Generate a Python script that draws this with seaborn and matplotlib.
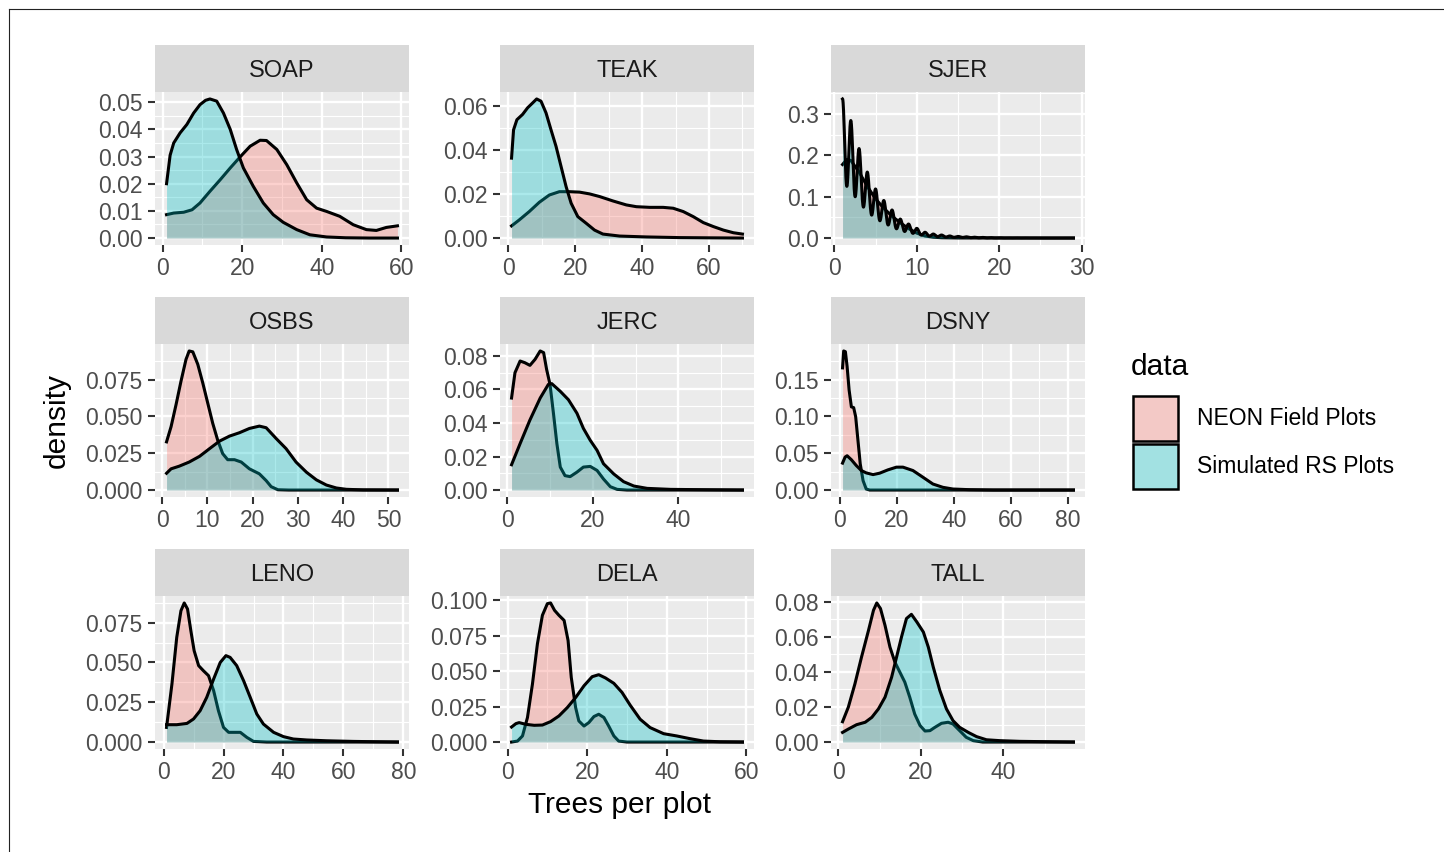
import numpy as np
import matplotlib
matplotlib.use("Agg")
import matplotlib.pyplot as plt
from matplotlib.patches import Rectangle
from matplotlib.lines import Line2D
import seaborn as sns

plt.rcParams['font.family'] = ['Liberation Sans', 'DejaVu Sans']

# ---------------- data ----------------
sites = ["SOAP", "TEAK", "SJER", "OSBS", "JERC", "DSNY", "LENO", "DELA", "TALL"]
series_names = ["NEON Field Plots", "Simulated RS Plots"]
series_colors = ["#F8766D", "#00BFC4"]

soap_neon_x = [1, 2.8, 5.3, 7.4, 9.4, 11.9, 14.5, 17, 19.5, 22, 24.5, 26.1, 28.7, 31.2, 33.7, 36.2, 38.7, 41.2, 44.5, 47.9, 51.2, 53.7, 56.2, 59]
soap_neon_y = [0.0086, 0.0092, 0.0095, 0.0104, 0.0129, 0.0172, 0.0215, 0.0258, 0.0299, 0.0338, 0.036, 0.0359, 0.0326, 0.027, 0.0203, 0.0141, 0.011, 0.0098, 0.008, 0.0049, 0.0031, 0.0028, 0.0039, 0.0045]
soap_sim_x = [1, 1.9, 2.8, 4.4, 6.1, 7.8, 9.4, 10.8, 11.9, 13.6, 15.3, 17, 18.6, 20.3, 22.8, 25.3, 27.8, 30.3, 33.7, 37, 41.2, 46, 52, 59]
soap_sim_y = [0.020, 0.0305, 0.0350, 0.0387, 0.0418, 0.046, 0.0491, 0.0507, 0.0512, 0.0504, 0.046, 0.040, 0.0326, 0.0258, 0.019, 0.0129, 0.0086, 0.0058, 0.0031, 0.0012, 0.0004, 0.0001, 0, 0]

teak_neon_x = [1, 3.3, 6.3, 9.3, 12.3, 15.3, 18.3, 21.3, 24.3, 27.3, 31.3, 35.3, 38.3, 42.3, 46.3, 49.3, 52.3, 55.3, 58.3, 61.3, 64.3, 67.3, 70]
teak_neon_y = [0.0055, 0.0082, 0.012, 0.0162, 0.0195, 0.021, 0.021, 0.0208, 0.020, 0.0188, 0.0168, 0.015, 0.0142, 0.0139, 0.0139, 0.0135, 0.012, 0.0097, 0.007, 0.0052, 0.0036, 0.0024, 0.0018]
teak_sim_x = [1, 1.6, 2.6, 4.3, 5.8, 7.3, 8.5, 9.8, 11.3, 12.8, 14.3, 15.8, 17.3, 18.8, 20.8, 23.3, 25.8, 28.3, 33.3, 41.3, 51.3, 60, 70]
teak_sim_y = [0.0362, 0.049, 0.0536, 0.056, 0.059, 0.0612, 0.063, 0.062, 0.0567, 0.049, 0.0415, 0.0324, 0.0233, 0.0158, 0.0097, 0.0067, 0.0036, 0.0018, 0.0009, 0.0005, 0.0002, 0.0001, 0]

sjer_neon_x = [1, 1.5, 2, 3, 4, 5, 6, 7, 8, 9, 10, 11, 12, 13, 15, 20, 29]
sjer_neon_y = [0.178, 0.19, 0.188, 0.16, 0.125, 0.095, 0.072, 0.053, 0.037, 0.023, 0.012, 0.005, 0.002, 0.0008, 0.0002, 0, 0]
# simulated SJER plots: integer tree counts and their share (very narrow bandwidth)
sjer_sim_trees = list(range(1, 30))
sjer_sim_share = [0.338, 0.285, 0.217, 0.16, 0.119, 0.091, 0.068, 0.046, 0.034, 0.0235,
                  0.014, 0.0097, 0.0073, 0.005, 0.004, 0.003, 0.002, 0.0015, 0.001, 0.0008,
                  0.0006, 0.0005, 0.0004, 0.0003, 0.0002, 0.0002, 0.0001, 0.0001, 0.0001]
sjer_sim_bandwidth = 0.28

osbs_neon_x = [1, 2, 3.1, 4.2, 5.3, 6.0, 6.8, 7.9, 9.0, 10.1, 11.2, 12.3, 13.4, 14.5, 16.0, 17.5, 19.3, 21.5, 23, 24.1, 25.6, 28, 35, 52]
osbs_neon_y = [0.0327, 0.043, 0.058, 0.074, 0.0887, 0.0944, 0.0938, 0.0853, 0.0727, 0.059, 0.0453, 0.0338, 0.0247, 0.0206, 0.0206, 0.019, 0.0144, 0.011, 0.0064, 0.0023, 0.0002, 0, 0, 0]
osbs_sim_x = [1, 2, 3.8, 6, 8.3, 10.5, 12.7, 14.9, 17.1, 19.3, 21.5, 23, 25.2, 27.4, 29.6, 31.9, 34.1, 36.3, 38.5, 40.7, 44.4, 52]
osbs_sim_y = [0.0114, 0.0144, 0.0162, 0.019, 0.0229, 0.0281, 0.0332, 0.0366, 0.0389, 0.0418, 0.0434, 0.0423, 0.035, 0.0281, 0.019, 0.0121, 0.0069, 0.0034, 0.0014, 0.0005, 0.0001, 0]

jerc_neon_x = [1, 1.8, 3, 4.1, 5.3, 6.5, 7.7, 8.5, 9.2, 10, 10.8, 11.6, 12.4, 13.5, 14.7, 16.3, 17.8, 19.4, 21, 22.5, 24.1, 25.7, 28, 40, 55]
jerc_neon_y = [0.0549, 0.07, 0.077, 0.076, 0.0744, 0.078, 0.083, 0.082, 0.072, 0.063, 0.0458, 0.0277, 0.0137, 0.0086, 0.008, 0.0107, 0.0137, 0.0141, 0.0117, 0.0066, 0.002, 0.0004, 0, 0, 0]
jerc_sim_x = [1, 3, 5.3, 7.7, 9.6, 10.4, 12.4, 14.3, 16.3, 17.8, 19.4, 21, 22.5, 24.9, 27.2, 29.6, 32.7, 38.2, 46, 55]
jerc_sim_y = [0.0151, 0.0277, 0.0418, 0.0549, 0.063, 0.0635, 0.0589, 0.0539, 0.0458, 0.0368, 0.0297, 0.0237, 0.0157, 0.0096, 0.005, 0.0024, 0.001, 0.0004, 0.0002, 0]

dsny_neon_x = [1, 1.4, 2, 2.6, 3.3, 4.1, 4.9, 5.6, 6.4, 7.2, 8.2, 9.3, 10.5, 20, 40, 82]
dsny_neon_y = [0.166, 0.189, 0.188, 0.168, 0.136, 0.113, 0.112, 0.0997, 0.0677, 0.0357, 0.0128, 0.0014, 0, 0, 0, 0]
dsny_sim_x = [1, 1.9, 2.6, 4.1, 5.8, 7.6, 9.3, 11.7, 14, 16.9, 19.9, 22.2, 25.7, 29.2, 32.7, 36.2, 39.7, 45.5, 53.7, 82]
dsny_sim_y = [0.0366, 0.0448, 0.0466, 0.0412, 0.0334, 0.0265, 0.0233, 0.021, 0.0229, 0.0274, 0.0311, 0.0311, 0.0265, 0.0174, 0.0082, 0.0037, 0.0014, 0.0005, 0, 0]

leno_neon_x = [1, 2.8, 4.4, 5.8, 6.9, 8, 9.1, 10.2, 11.7, 13.3, 15, 16.7, 18.3, 20, 21.7, 23.3, 25.6, 27.8, 30, 34.4, 50, 78]
leno_neon_y = [0.0092, 0.0365, 0.0658, 0.0825, 0.0874, 0.0836, 0.07, 0.0574, 0.048, 0.0448, 0.0417, 0.0323, 0.0197, 0.0092, 0.0061, 0.0061, 0.0061, 0.0029, 0.0004, 0, 0, 0]
leno_sim_x = [1, 4.4, 7.8, 10, 12.2, 14.4, 16.7, 18.9, 20.8, 22.2, 24.4, 26.7, 28.9, 31.1, 33.3, 36.7, 40, 43.3, 47.8, 54.4, 63.3, 78]
leno_sim_y = [0.0109, 0.0109, 0.0117, 0.0145, 0.0197, 0.0281, 0.0396, 0.05, 0.0543, 0.0532, 0.048, 0.0385, 0.0281, 0.0176, 0.0113, 0.0061, 0.0034, 0.0019, 0.0013, 0.0008, 0.0004, 0]

dela_neon_x = [1, 2.5, 3.75, 5, 6.25, 7.5, 8.75, 10, 10.8, 11.8, 12.9, 14.2, 15.2, 16, 17.1, 17.9, 19.2, 20.4, 21.7, 22.9, 24.2, 25.4, 26.7, 27.9, 30, 45, 59]
dela_neon_y = [0.0, 0.0007, 0.0043, 0.0173, 0.0409, 0.0693, 0.0894, 0.0976, 0.0981, 0.0929, 0.0894, 0.0858, 0.0716, 0.0456, 0.0243, 0.0149, 0.0113, 0.0137, 0.018, 0.0196, 0.0173, 0.0113, 0.0043, 0.0007, 0, 0, 0]
dela_sim_x = [1, 2.1, 2.9, 4.6, 6.7, 8.75, 10.8, 12.9, 15, 17.1, 19.2, 21.25, 22.9, 24.6, 26.7, 28.75, 30.8, 33.3, 35.8, 39.2, 42.5, 45.8, 49.2, 53.3, 59]
dela_sim_y = [0.0106, 0.013, 0.0137, 0.0125, 0.0118, 0.012, 0.0144, 0.0184, 0.0243, 0.0314, 0.0397, 0.0461, 0.0475, 0.0452, 0.0414, 0.035, 0.026, 0.0161, 0.0102, 0.0059, 0.0043, 0.0024, 0.0007, 0.0002, 0]

tall_neon_x = [1, 2.4, 4, 5.6, 7.3, 8.5, 9.3, 10.2, 11.3, 12.5, 13.7, 14.9, 16.1, 17.3, 18.5, 19.8, 21, 22.2, 23.4, 25, 26.6, 27.8, 29.4, 31, 32.7, 35, 45, 57]
tall_neon_y = [0.0116, 0.0199, 0.0332, 0.0485, 0.0638, 0.0752, 0.0794, 0.0762, 0.0666, 0.0542, 0.0456, 0.0399, 0.0342, 0.0256, 0.016, 0.0094, 0.0063, 0.0065, 0.0084, 0.0107, 0.0113, 0.0103, 0.0065, 0.0027, 0.0008, 0, 0, 0]
tall_sim_x = [1, 2.4, 4.4, 6.5, 8.1, 9.7, 11.3, 12.9, 14.1, 15.3, 16.5, 17.7, 19, 20.6, 21.8, 23, 24.6, 26.2, 27.8, 29.4, 31.5, 33.5, 35.9, 39.1, 44, 50.4, 57]
tall_sim_y = [0.0055, 0.0074, 0.0099, 0.0113, 0.0141, 0.0189, 0.0256, 0.037, 0.0485, 0.06, 0.0705, 0.0729, 0.0686, 0.0628, 0.0542, 0.0428, 0.0294, 0.0189, 0.0122, 0.0084, 0.0055, 0.0031, 0.0013, 0.0008, 0.0004, 0.0002, 0]

x_breaks = {
    "SOAP": [0, 20, 40, 60], "TEAK": [0, 20, 40, 60], "SJER": [0, 10, 20, 30],
    "OSBS": [0, 10, 20, 30, 40, 50], "JERC": [0, 20, 40], "DSNY": [0, 20, 40, 60, 80],
    "LENO": [0, 20, 40, 60, 80], "DELA": [0, 20, 40, 60], "TALL": [0, 20, 40],
}
y_breaks = {
    "SOAP": [0, 0.01, 0.02, 0.03, 0.04, 0.05], "TEAK": [0, 0.02, 0.04, 0.06],
    "SJER": [0, 0.1, 0.2, 0.3], "OSBS": [0, 0.025, 0.05, 0.075],
    "JERC": [0, 0.02, 0.04, 0.06, 0.08], "DSNY": [0, 0.05, 0.10, 0.15],
    "LENO": [0, 0.025, 0.05, 0.075], "DELA": [0, 0.025, 0.05, 0.075, 0.1],
    "TALL": [0, 0.02, 0.04, 0.06, 0.08],
}
y_decimals = {"SOAP": 2, "TEAK": 2, "SJER": 1, "OSBS": 3, "JERC": 2,
              "DSNY": 2, "LENO": 3, "DELA": 3, "TALL": 2}

curves = {
    "SOAP": (soap_neon_x, soap_neon_y, soap_sim_x, soap_sim_y),
    "TEAK": (teak_neon_x, teak_neon_y, teak_sim_x, teak_sim_y),
    "SJER": (sjer_neon_x, sjer_neon_y, None, None),
    "OSBS": (osbs_neon_x, osbs_neon_y, osbs_sim_x, osbs_sim_y),
    "JERC": (jerc_neon_x, jerc_neon_y, jerc_sim_x, jerc_sim_y),
    "DSNY": (dsny_neon_x, dsny_neon_y, dsny_sim_x, dsny_sim_y),
    "LENO": (leno_neon_x, leno_neon_y, leno_sim_x, leno_sim_y),
    "DELA": (dela_neon_x, dela_neon_y, dela_sim_x, dela_sim_y),
    "TALL": (tall_neon_x, tall_neon_y, tall_sim_x, tall_sim_y),
}

# ---------------- layout ----------------
W, H = 1444, 852
fig = plt.figure(figsize=(W / 100, H / 100), dpi=100)
fig.patch.set_facecolor("white")

def px_axes(left, top, width, height):
    return fig.add_axes([left / W, 1 - (top + height) / H, width / W, height / H])

col_left = [155, 500, 831]
panel_w = 254
strip_top = [45, 297, 549]
strip_h = 47
panel_h = 153

FILL_ALPHA = 0.33
LINE_W = 2.2
TICK_FS = 16.5

def minor_breaks(br, lo, hi):
    step = br[1] - br[0]
    ext = [br[0] - step] + list(br) + [br[-1] + step]
    mids = [(a + b) / 2 for a, b in zip(ext[:-1], ext[1:])]
    return [m for m in mids if lo <= m <= hi]

for i, site in enumerate(sites):
    r, c = divmod(i, 3)
    sax = px_axes(col_left[c], strip_top[r], panel_w, strip_h)
    sax.set_facecolor("#D9D9D9")
    sax.set_xticks([]); sax.set_yticks([])
    for sp in sax.spines.values():
        sp.set_visible(False)
    sax.text(0.5, 0.45, site, ha="center", va="center", fontsize=TICK_FS + 0.5,
             color="#1A1A1A", transform=sax.transAxes)

    ax = px_axes(col_left[c], strip_top[r] + strip_h, panel_w, panel_h)
    ax.set_facecolor("#EBEBEB")
    for sp in ax.spines.values():
        sp.set_visible(False)

    nx, ny, sx, sy = curves[site]
    # NEON field plots
    ax.fill_between(nx, ny, 0, color=series_colors[0], alpha=FILL_ALPHA, linewidth=0, zorder=2)
    sns.lineplot(x=nx, y=ny, ax=ax, color="black", linewidth=LINE_W, sort=False,
                 estimator=None, zorder=3)
    xs_all = list(nx)
    # simulated RS plots
    if sx is not None:
        ax.fill_between(sx, sy, 0, color=series_colors[1], alpha=FILL_ALPHA, linewidth=0, zorder=4)
        sns.lineplot(x=sx, y=sy, ax=ax, color="black", linewidth=LINE_W, sort=False,
                     estimator=None, zorder=5)
        xs_all += list(sx)
    else:
        t = np.asarray(sjer_sim_trees, dtype=float)
        w = np.asarray(sjer_sim_share, dtype=float)
        sd = float(np.sqrt(np.cov(t, aweights=w)))
        bw = sjer_sim_bandwidth / sd
        sns.kdeplot(x=t, weights=w, bw_method=bw, cut=0, gridsize=4000, fill=True,
                    color=series_colors[1], alpha=FILL_ALPHA, linewidth=0, ax=ax, zorder=4)
        sns.kdeplot(x=t, weights=w, bw_method=bw, cut=0, gridsize=4000, fill=False,
                    color="black", linewidth=LINE_W, ax=ax, zorder=5)
        xs_all += list(t)

    ymax = max(float(np.max(l.get_ydata())) for l in ax.lines)
    x0, x1 = min(xs_all), max(xs_all)
    xr = x1 - x0
    ax.set_xlim(x0 - 0.05 * xr, x1 + 0.05 * xr)
    ax.set_ylim(-0.05 * ymax, 1.05 * ymax)
    lo, hi = ax.get_xlim()
    ylo, yhi = ax.get_ylim()

    xb = x_breaks[site]
    yb = y_breaks[site]
    ax.set_xticks(xb)
    ax.set_xticklabels([str(v) for v in xb])
    ax.set_yticks(yb)
    d = y_decimals[site]
    ax.set_yticklabels([f"{v:.{d}f}" for v in yb])
    ax.set_xticks(minor_breaks(xb, lo, hi), minor=True)
    ax.set_yticks(minor_breaks(yb, ylo, yhi), minor=True)
    ax.set_xlim(lo, hi); ax.set_ylim(ylo, yhi)

    ax.set_axisbelow(True)
    ax.grid(which="major", color="white", linewidth=1.7)
    ax.grid(which="minor", color="white", linewidth=0.85)
    ax.tick_params(which="major", length=5.3, width=1.5, color="#333333",
                   labelsize=TICK_FS, labelcolor="#4D4D4D", pad=3.5)
    ax.tick_params(which="minor", length=0)
    ax.set_xlabel(""); ax.set_ylabel("")

# axis titles
fig.text(57 / W, 1 - 420 / H, "density", rotation=90, ha="center", va="center",
         fontsize=21.5, color="black")
fig.text(620 / W, 1 - 805 / H, "Trees per plot", ha="center", va="center",
         fontsize=21.5, color="black")

# legend
fig.text(1131 / W, 1 - 367 / H, "data", ha="left", va="center", fontsize=21.5, color="black")
key_tops = [396, 444]
for name, col, kt in zip(series_names, series_colors, key_tops):
    fig.add_artist(Rectangle((1133 / W, 1 - (kt + 45) / H), 45 / W, 45 / H,
                             transform=fig.transFigure, facecolor="#F2F2F2",
                             edgecolor="none"))
    fig.add_artist(Rectangle((1133 / W, 1 - (kt + 45) / H), 45 / W, 45 / H,
                             transform=fig.transFigure, facecolor=col, alpha=FILL_ALPHA,
                             edgecolor="none"))
    fig.add_artist(Rectangle((1133 / W, 1 - (kt + 45) / H), 45 / W, 45 / H,
                             transform=fig.transFigure, facecolor="none",
                             edgecolor="black", linewidth=1.8))
    fig.text(1197 / W, 1 - (kt + 22.5) / H, name, ha="left", va="center",
             fontsize=16.5, color="black")

# thin frame at the image's left and top edges
fig.add_artist(Line2D([8.5 / W, 8.5 / W], [0, 1 - 8.5 / H], transform=fig.transFigure,
                      color="#222222", linewidth=0.8))
fig.add_artist(Line2D([8.5 / W, 1], [1 - 8.5 / H, 1 - 8.5 / H], transform=fig.transFigure,
                      color="#222222", linewidth=0.8))

fig.savefig("out.png", dpi=100, facecolor="white")
